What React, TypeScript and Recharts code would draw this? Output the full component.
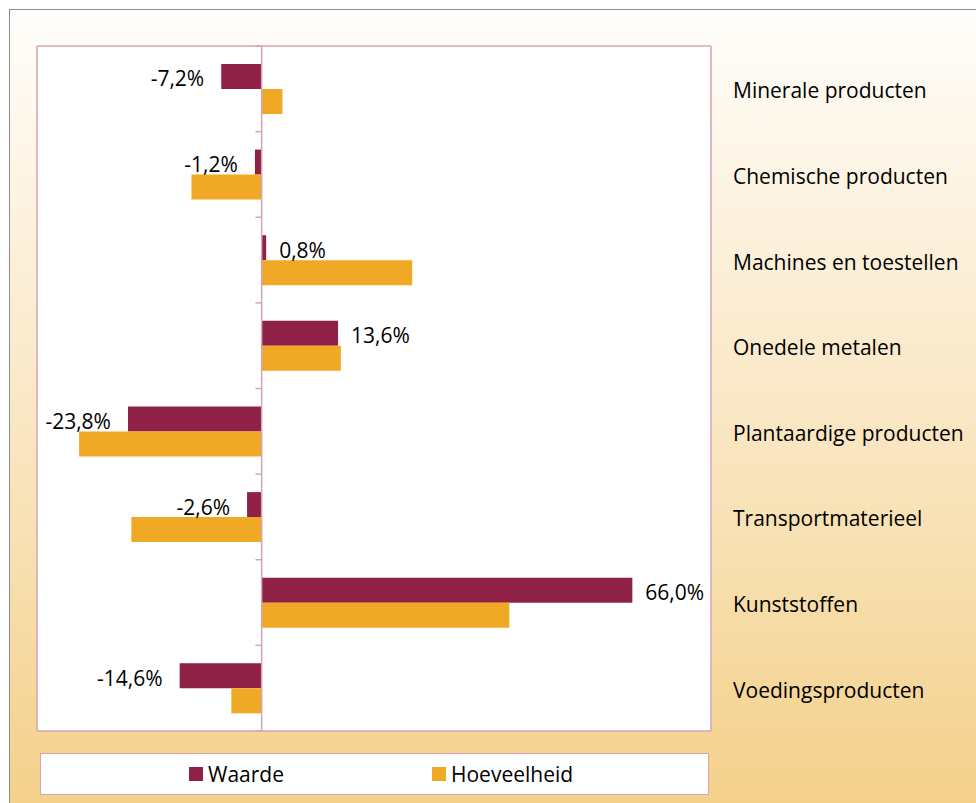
import React from 'react';
import {
  BarChart,
  Bar,
  XAxis,
  YAxis,
  Legend,
  LabelList,
  ReferenceLine,
  CartesianGrid,
} from 'recharts';

const categories = [
  'Minerale producten',
  'Chemische producten',
  'Machines en toestellen',
  'Onedele metalen',
  'Plantaardige producten',
  'Transportmaterieel',
  'Kunststoffen',
  'Voedingsproducten',
];

// procentuele verandering
const waarde = [-7.2, -1.2, 0.8, 13.6, -23.8, -2.6, 66.0, -14.6];
const hoeveelheid = [3.7, -12.5, 26.8, 14.1, -32.5, -23.2, 44.1, -5.4];

const xDomain = [-40, 80];

const data = categories.map((name, i) => ({
  name,
  waarde: waarde[i],
  hoeveelheid: hoeveelheid[i],
}));

const FONT = '"Open Sans", sans-serif';
const WAARDE_COLOR = '#8f2146';
const HOEVEEL_COLOR = '#f0a924';
const PINK = '#d7a3b5';

const fmt = (v: number) => v.toFixed(1).replace('.', ',') + '%';

const WaardeLabel = (props: any) => {
  const { x, y, width, height, value } = props;
  const neg = value < 0;
  const left = Math.min(x, x + width);
  const right = Math.max(x, x + width);
  return (
    <text
      x={neg ? left - 17 : right + 13}
      y={y + height / 2 + 2}
      textAnchor={neg ? 'end' : 'start'}
      dominantBaseline="central"
      fontSize={21}
      fontFamily={FONT}
      fill="#000"
    >
      {fmt(value)}
    </text>
  );
};

const LegendBox = () => (
  <div
    style={{
      boxSizing: 'border-box',
      width: 669,
      height: 42,
      border: `1px solid ${PINK}`,
      background: '#fff',
      position: 'relative',
      fontFamily: FONT,
      fontSize: 21,
      color: '#000',
    }}
  >
    {[
      { label: 'Waarde', color: WAARDE_COLOR, left: 148 },
      { label: 'Hoeveelheid', color: HOEVEEL_COLOR, left: 391 },
    ].map((it) => (
      <div
        key={it.label}
        style={{
          position: 'absolute',
          left: it.left,
          top: 0,
          height: 40,
          display: 'flex',
          alignItems: 'center',
        }}
      >
        <span
          style={{
            display: 'inline-block',
            width: 14,
            height: 14,
            background: it.color,
            marginRight: 5,
          }}
        />
        <span style={{ lineHeight: '40px' }}>{it.label}</span>
      </div>
    ))}
  </div>
);

// rand van het plotgebied
const edgesH = ({ offset }: any) => [offset.top, offset.top + offset.height];
const edgesV = ({ offset }: any) => [offset.left, offset.left + offset.width];

const App = () => {
  return (
    <div
      style={{
        position: 'absolute',
        left: 0,
        top: 0,
        width: 976,
        height: 803,
        background: '#fff',
        overflow: 'hidden',
      }}
    >
      <div
        style={{
          position: 'absolute',
          left: 9,
          top: 9,
          width: 980,
          height: 800,
          borderTop: '1.5px solid #8c8c8c',
          borderLeft: '1.5px solid #8c8c8c',
          background: 'linear-gradient(180deg, #fffefb 0%, #fcf0da 30%, #f8e1b4 65%, #f4d08a 100%)',
        }}
      />
      <div style={{ position: 'absolute', left: 0, top: 0 }}>
        <BarChart
          width={976}
          height={803}
          data={data}
          layout="vertical"
          margin={{ top: 46, right: 0, left: 37, bottom: 72 }}
          barCategoryGap="21%"
          barGap={0}
        >
          <CartesianGrid
            fill="#fff"
            fillOpacity={1}
            stroke={PINK}
            strokeWidth={1.5}
            horizontalCoordinatesGenerator={edgesH}
            verticalCoordinatesGenerator={edgesV}
          />
          <XAxis type="number" domain={xDomain} hide allowDataOverflow />
          <YAxis
            type="category"
            dataKey="name"
            orientation="right"
            width={265}
            axisLine={false}
            tickLine={false}
            tickSize={0}
            tickMargin={22}
            interval={0}
            tick={{ fontSize: 21, fontFamily: FONT, fill: '#000', dy: 2 }}
          />
          <Bar dataKey="waarde" name="Waarde" fill={WAARDE_COLOR} isAnimationActive={false}>
            <LabelList dataKey="waarde" content={<WaardeLabel />} />
          </Bar>
          <Bar dataKey="hoeveelheid" name="Hoeveelheid" fill={HOEVEEL_COLOR} isAnimationActive={false} />
          <ReferenceLine x={0} stroke={PINK} strokeWidth={1.5} />
          {/* streepjes op de as tussen de categorieen */}
          {categories.map((c) => (
            <ReferenceLine
              key={c}
              position="start"
              segment={[
                { x: -1.1, y: c },
                { x: 0, y: c },
              ]}
              stroke={PINK}
              strokeWidth={1.5}
              ifOverflow="visible"
            />
          ))}
          <ReferenceLine
            position="end"
            segment={[
              { x: -1.1, y: categories[categories.length - 1] },
              { x: 0, y: categories[categories.length - 1] },
            ]}
            stroke={PINK}
            strokeWidth={1.5}
            ifOverflow="visible"
          />
          <Legend
            layout="horizontal"
            verticalAlign="middle"
            align="center"
            wrapperStyle={{ left: 40, top: 753, width: 669, height: 42 }}
            content={<LegendBox />}
          />
        </BarChart>
      </div>
    </div>
  );
};

export default App;
